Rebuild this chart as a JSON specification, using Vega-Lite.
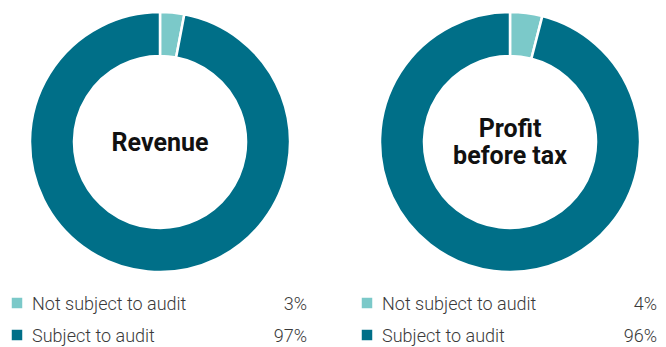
{
  "$schema": "https://vega.github.io/schema/vega-lite/v6.json",
  "padding": 0,
  "background": "white",
  "config": {"view": {"stroke": null}, "font": "Roboto"},
  "datasets": {
    "revenue": [
      {"category": "Not subject to audit", "value": 3, "pct": "3%"},
      {"category": "Subject to audit", "value": 97, "pct": "97%"}
    ],
    "profit": [
      {"category": "Not subject to audit", "value": 4, "pct": "4%"},
      {"category": "Subject to audit", "value": 96, "pct": "96%"}
    ]
  },
  "spacing": 30,
  "hconcat": [
    {
      "spacing": 0,
      "vconcat": [
        {
          "width": 320, "height": 284,
          "data": {"name": "revenue"},
          "layer": [
            {
              "mark": {"type": "arc", "outerRadius": 130, "innerRadius": 86, "stroke": "white", "strokeWidth": 2.5},
              "encoding": {
                "theta": {"field": "value", "type": "quantitative", "stack": true},
                "order": {"field": "category", "type": "nominal", "sort": "ascending"},
                "color": {"field": "category", "type": "nominal", "legend": null,
                  "scale": {"domain": ["Not subject to audit", "Subject to audit"], "range": ["#7bc9c9", "#006f88"]}}
              }
            },
            {
              "data": {"values": [{"title": "Revenue"}]},
              "mark": {"type": "text", "fontSize": 25, "fontWeight": "bold", "color": "#111111", "baseline": "middle", "align": "center", "dy": 1},
              "encoding": {"text": {"field": "title", "type": "nominal"}}
            }
          ]
        },
        {
          "width": 320, "height": 63,
          "data": {"name": "revenue"},
          "encoding": {
            "y": {"field": "category", "type": "nominal", "axis": null,
              "scale": {"type": "point", "range": [19, 51], "padding": 0, "domain": ["Not subject to audit", "Subject to audit"]}}
          },
          "layer": [
            {
              "mark": {"type": "square", "size": 110, "filled": true, "opacity": 1, "xOffset": -15},
              "encoding": {
                "x": {"datum": "label", "type": "nominal", "axis": null, "scale": {"type": "point", "domain": ["label", "pct"], "range": [32, 307], "padding": 0}},
                "color": {"field": "category", "type": "nominal", "legend": null,
                  "scale": {"domain": ["Not subject to audit", "Subject to audit"], "range": ["#7bc9c9", "#006f88"]}}
              }
            },
            {
              "mark": {"type": "text", "align": "left", "baseline": "middle", "fontSize": 18, "fontWeight": 300, "color": "#3a3a3a", "dy": 2},
              "encoding": {
                "x": {"datum": "label", "type": "nominal", "axis": null, "scale": {"type": "point", "domain": ["label", "pct"], "range": [32, 307], "padding": 0}},
                "text": {"field": "category", "type": "nominal"}
              }
            },
            {
              "mark": {"type": "text", "align": "right", "baseline": "middle", "fontSize": 18, "fontWeight": 300, "color": "#3a3a3a", "dy": 2},
              "encoding": {
                "x": {"datum": "pct", "type": "nominal", "axis": null, "scale": {"type": "point", "domain": ["label", "pct"], "range": [32, 307], "padding": 0}},
                "text": {"field": "pct", "type": "nominal"}
              }
            }
          ]
        }
      ]
    },
    {
      "spacing": 0,
      "vconcat": [
        {
          "width": 320, "height": 284,
          "data": {"name": "profit"},
          "layer": [
            {
              "mark": {"type": "arc", "outerRadius": 130, "innerRadius": 86, "stroke": "white", "strokeWidth": 2.5},
              "encoding": {
                "theta": {"field": "value", "type": "quantitative", "stack": true},
                "order": {"field": "category", "type": "nominal", "sort": "ascending"},
                "color": {"field": "category", "type": "nominal", "legend": null,
                  "scale": {"domain": ["Not subject to audit", "Subject to audit"], "range": ["#7bc9c9", "#006f88"]}}
              }
            },
            {
              "data": {"values": [{"title": "Profit\nbefore tax"}]},
              "mark": {"type": "text", "fontSize": 25, "fontWeight": "bold", "color": "#111111", "baseline": "middle", "align": "center", "lineBreak": "\n", "lineHeight": 27, "dy": -13},
              "encoding": {"text": {"field": "title", "type": "nominal"}}
            }
          ]
        },
        {
          "width": 320, "height": 63,
          "data": {"name": "profit"},
          "encoding": {
            "y": {"field": "category", "type": "nominal", "axis": null,
              "scale": {"type": "point", "range": [19, 51], "padding": 0, "domain": ["Not subject to audit", "Subject to audit"]}}
          },
          "layer": [
            {
              "mark": {"type": "square", "size": 110, "filled": true, "opacity": 1, "xOffset": -15},
              "encoding": {
                "x": {"datum": "label", "type": "nominal", "axis": null, "scale": {"type": "point", "domain": ["label", "pct"], "range": [32, 307], "padding": 0}},
                "color": {"field": "category", "type": "nominal", "legend": null,
                  "scale": {"domain": ["Not subject to audit", "Subject to audit"], "range": ["#7bc9c9", "#006f88"]}}
              }
            },
            {
              "mark": {"type": "text", "align": "left", "baseline": "middle", "fontSize": 18, "fontWeight": 300, "color": "#3a3a3a", "dy": 2},
              "encoding": {
                "x": {"datum": "label", "type": "nominal", "axis": null, "scale": {"type": "point", "domain": ["label", "pct"], "range": [32, 307], "padding": 0}},
                "text": {"field": "category", "type": "nominal"}
              }
            },
            {
              "mark": {"type": "text", "align": "right", "baseline": "middle", "fontSize": 18, "fontWeight": 300, "color": "#3a3a3a", "dy": 2},
              "encoding": {
                "x": {"datum": "pct", "type": "nominal", "axis": null, "scale": {"type": "point", "domain": ["label", "pct"], "range": [32, 307], "padding": 0}},
                "text": {"field": "pct", "type": "nominal"}
              }
            }
          ]
        }
      ]
    }
  ]
}
